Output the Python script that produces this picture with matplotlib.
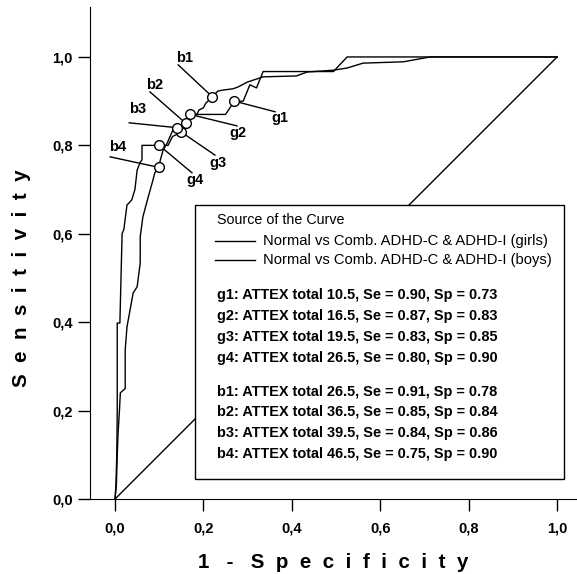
import matplotlib
matplotlib.use("Agg")
import matplotlib.pyplot as plt
from matplotlib.patches import Rectangle

plt.rcParams['font.family'] = ['Liberation Sans', 'DejaVu Sans']

# ROC curves (1 - specificity, sensitivity)
girls_x = [0.0, 0.002, 0.004, 0.005, 0.005, 0.005, 0.011, 0.016, 0.020, 0.027, 0.032,
           0.038, 0.045, 0.050, 0.057, 0.061, 0.061, 0.10, 0.12, 0.13, 0.15, 0.155,
           0.17, 0.25, 0.27, 0.29, 0.305, 0.32, 0.335, 0.494, 0.525, 1.0]
girls_y = [0.0, 0.03, 0.10, 0.20, 0.30, 0.398, 0.398, 0.60, 0.61, 0.665, 0.67,
           0.677, 0.70, 0.744, 0.762, 0.767, 0.80, 0.80, 0.80, 0.82, 0.83, 0.85,
           0.87, 0.87, 0.90, 0.90, 0.937, 0.93, 0.967, 0.967, 1.0, 1.0]

boys_x = [0.0, 0.003, 0.005, 0.007, 0.010, 0.012, 0.023, 0.023, 0.027, 0.041, 0.050,
          0.057, 0.057, 0.063, 0.075, 0.084, 0.090, 0.10, 0.102, 0.109, 0.118, 0.124,
          0.131, 0.14, 0.16, 0.17, 0.185, 0.19, 0.20, 0.205, 0.21, 0.22, 0.233,
          0.244, 0.267, 0.278, 0.299, 0.335, 0.41, 0.435, 0.494, 0.525, 0.561,
          0.652, 0.713, 1.0]
boys_y = [0.0, 0.03, 0.10, 0.15, 0.20, 0.24, 0.25, 0.337, 0.389, 0.466, 0.48,
          0.534, 0.593, 0.638, 0.683, 0.715, 0.738, 0.75, 0.765, 0.79, 0.805, 0.819,
          0.835, 0.84, 0.85, 0.865, 0.87, 0.88, 0.885, 0.895, 0.90, 0.91, 0.923,
          0.925, 0.928, 0.932, 0.943, 0.955, 0.957, 0.966, 0.97, 0.975, 0.986,
          0.989, 1.0, 1.0]

# cut-off points: name, 1-Sp, Se, label position
cut_names = ['g1', 'g2', 'g3', 'g4', 'b1', 'b2', 'b3', 'b4']
cut_fpr = [0.27, 0.17, 0.15, 0.10, 0.22, 0.16, 0.14, 0.10]
cut_se = [0.90, 0.87, 0.83, 0.80, 0.91, 0.85, 0.84, 0.75]
label_x = [0.373, 0.278, 0.233, 0.181, 0.158, 0.090, 0.050, 0.007]
label_y = [0.862, 0.828, 0.760, 0.722, 0.998, 0.937, 0.882, 0.796]
leader_x = [0.362, 0.276, 0.226, 0.174, 0.143, 0.079, 0.032, -0.011]
leader_y = [0.876, 0.844, 0.778, 0.738, 0.982, 0.921, 0.851, 0.774]

legend_series = ['Normal vs Comb. ADHD-C & ADHD-I (girls)',
                 'Normal vs Comb. ADHD-C & ADHD-I (boys)']
cut_text = ['g1: ATTEX total 10.5, Se = 0.90, Sp = 0.73',
            'g2: ATTEX total 16.5, Se = 0.87, Sp = 0.83',
            'g3: ATTEX total 19.5, Se = 0.83, Sp = 0.85',
            'g4: ATTEX total 26.5, Se = 0.80, Sp = 0.90',
            'b1: ATTEX total 26.5, Se = 0.91, Sp = 0.78',
            'b2: ATTEX total 36.5, Se = 0.85, Sp = 0.84',
            'b3: ATTEX total 39.5, Se = 0.84, Sp = 0.86',
            'b4: ATTEX total 46.5, Se = 0.75, Sp = 0.90']
ticks = [0.0, 0.2, 0.4, 0.6, 0.8, 1.0]
tick_labels = ['0,0', '0,2', '0,4', '0,6', '0,8', '1,0']

fig = plt.figure(figsize=(5.77, 5.74), dpi=100)
ax = fig.add_axes([90/577, 75/574, 487/577, 492/574])

ax.plot([0, 1], [0, 1], color='black', lw=1.0, zorder=1)
ax.plot(girls_x, girls_y, color='black', lw=1.0, zorder=2)
ax.plot(boys_x, boys_y, color='black', lw=1.0, zorder=2)

for i in range(len(cut_names)):
    ax.plot([leader_x[i], cut_fpr[i]], [leader_y[i], cut_se[i]], color='black', lw=1.0, zorder=3)
    ax.text(label_x[i], label_y[i], cut_names[i], fontsize=10.5, fontweight='bold',
            ha='center', va='center', zorder=5)
ax.plot(cut_fpr, cut_se, 'o', ms=7, mfc='white', mec='black', mew=1.0, zorder=4)

ax.set_xlim(-0.0566, 1.045)
ax.set_ylim(0, 1.113)
ax.spines['top'].set_visible(False)
ax.spines['right'].set_visible(False)
ax.set_xticks(ticks)
ax.set_xticklabels(tick_labels)
ax.set_yticks(ticks)
ax.set_yticklabels(tick_labels)
ax.tick_params(length=8.5, width=1, labelsize=10.5)
ax.tick_params(axis='x', pad=8)
ax.tick_params(axis='y', pad=4)
for lab in ax.get_xticklabels() + ax.get_yticklabels():
    lab.set_fontweight('bold')

# legend box
ax.add_patch(Rectangle((0.181, 0.045), 0.835, 0.62, facecolor='white',
                       edgecolor='black', lw=1.0, zorder=6))
ax.text(0.231, 0.631, 'Source of the Curve', fontsize=10.3, va='center', zorder=7)
for y, s in zip([0.584, 0.541], legend_series):
    ax.plot([0.226, 0.317], [y, y], color='black', lw=1.0, zorder=7)
    ax.text(0.335, y, s, fontsize=10.6, va='center', zorder=7)
rows_y = [0.4615, 0.414, 0.3665, 0.319, 0.242, 0.197, 0.149, 0.102]
for y, s in zip(rows_y, cut_text):
    ax.text(0.231, y, s, fontsize=10.45, fontweight='bold', va='center', zorder=7)

fig.text(333/577, 12/574, '1   -   ' + '  '.join('Specificity'),
         fontsize=14.8, fontweight='bold', ha='center', va='center')
fig.text(22/577, 1 - 278/574, '  '.join('Sensitivity'), rotation=90,
         fontsize=14.8, fontweight='bold', ha='center', va='center')

fig.savefig('out.png', dpi=100)
